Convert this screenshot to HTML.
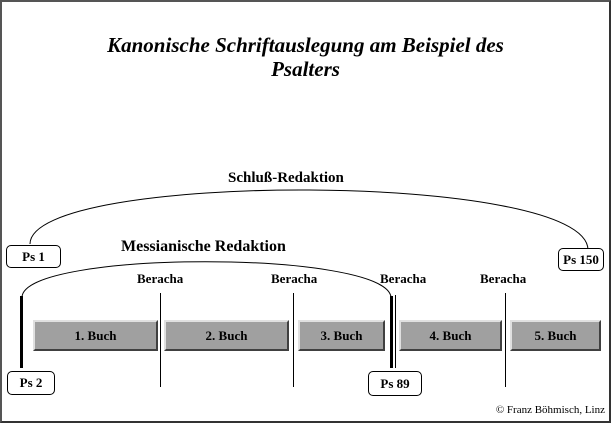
<!DOCTYPE html>
<html><head><meta charset="utf-8"><style>
html,body{margin:0;padding:0;background:#fff}
body{width:611px;height:423px;overflow:hidden;position:relative;font-family:"Liberation Serif",serif}
.fr{position:absolute;left:0;top:0;width:607px;height:419px;border:2px solid #555;border-right-color:#333;border-bottom-color:#333;box-sizing:content-box}
.t{position:absolute;white-space:nowrap;font-weight:bold}
.box{position:absolute;border:1px solid #000;border-radius:5px;background:#fff;font-weight:bold;font-size:13px;text-align:center;box-sizing:border-box}
.bk{position:absolute;top:320px;height:31px;background:#a0a0a0;border-top:2px solid #e0e0e0;border-left:2px solid #e0e0e0;border-bottom:2px solid #404040;border-right:2px solid #404040;box-sizing:border-box;font-weight:bold;font-size:13px;text-align:center;line-height:27px}
.v{position:absolute;background:#000}
</style></head><body>
<div class="fr"></div>
<div class="t" style="left:0;width:611px;text-align:center;top:33px;font-size:21px;font-style:italic;line-height:24px">Kanonische Schriftauslegung am Beispiel des<br>Psalters</div>
<svg style="position:absolute;left:0;top:0" width="611" height="423">
<path d="M30,244 C30,171 588,171 588,250" fill="none" stroke="#000" stroke-width="1"/>
<path d="M22,297 C25,250 385,250 391,297" fill="none" stroke="#000" stroke-width="1"/>
</svg>
<div class="t" style="left:228px;top:170px;font-size:15px">Schluß-Redaktion</div>
<div class="t" style="left:121px;top:238px;font-size:16px">Messianische Redaktion</div>
<div class="box" style="left:6px;top:245px;width:55px;height:23px;line-height:21px">Ps 1</div>
<div class="box" style="left:558px;top:248px;width:46px;height:23px;line-height:21px">Ps 150</div>
<div class="t" style="left:137px;top:271px;font-size:13px">Beracha</div>
<div class="t" style="left:271px;top:271px;font-size:13px">Beracha</div>
<div class="t" style="left:380px;top:271px;font-size:13px">Beracha</div>
<div class="t" style="left:480px;top:271px;font-size:13px">Beracha</div>
<div class="v" style="left:20px;top:296px;width:3px;height:72px"></div>
<div class="v" style="left:390px;top:296px;width:3px;height:72px"></div>
<div class="v" style="left:395px;top:295px;width:1px;height:73px"></div>
<div class="v" style="left:160px;top:293px;width:1px;height:94px"></div>
<div class="v" style="left:293px;top:293px;width:1px;height:94px"></div>
<div class="v" style="left:505px;top:293px;width:1px;height:94px"></div>
<div class="bk" style="left:33px;width:125px">1. Buch</div>
<div class="bk" style="left:164px;width:125px">2. Buch</div>
<div class="bk" style="left:298px;width:87px">3. Buch</div>
<div class="bk" style="left:399px;width:103px">4. Buch</div>
<div class="bk" style="left:510px;width:91px">5. Buch</div>
<div class="box" style="left:7px;top:371px;width:48px;height:24px;line-height:22px">Ps 2</div>
<div class="box" style="left:368px;top:371px;width:54px;height:25px;line-height:23px">Ps 89</div>
<div class="t" style="right:6px;top:404px;font-size:11px;font-weight:normal">© Franz Böhmisch, Linz</div>
</body></html>
